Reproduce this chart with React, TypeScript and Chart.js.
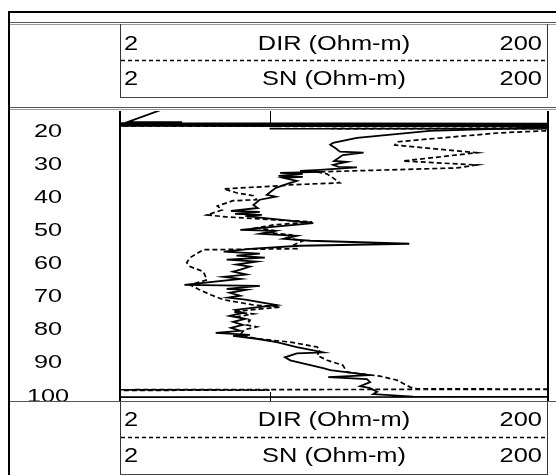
import React, { useEffect, useRef } from "react";
import { Chart, registerables } from "chart.js";

Chart.register(...registerables);

// ---- data (depth in m, resistivity in Ohm-m) ----
const dirDepth = [
  14.0, 17.6, 17.7, 18.0, 18.15, 18.4, 18.55, 18.8, 18.95, 20.3, 22.4, 23.9, 24.5, 25.7, 26.6, 26.9, 27.6,
  29.4, 29.7, 30.3, 30.6, 31.2, 31.3, 32.1, 32.4, 32.7, 33.0, 33.3, 33.9, 34.2, 34.5, 35.4, 36.3, 37.5,
  39.6, 40.2, 41.1, 42.7, 43.6, 44.5, 44.8, 45.4, 45.7, 46.0, 46.6, 48.2, 50.2, 50.5, 51.4, 52.0, 52.9,
  53.5, 54.4, 55.0, 55.9, 56.8, 57.4, 58.0, 58.6, 59.2, 59.8, 60.7, 61.3, 62.2, 62.8, 63.7, 64.4, 65.0,
  66.8, 67.1, 68.0, 68.3, 69.2, 70.1, 70.7, 71.3, 72.9, 74.4, 75.3, 76.2, 77.1, 78.0, 78.9, 79.8, 80.7,
  81.3, 81.9, 82.2, 83.1, 84.1, 85.6, 86.6, 87.2, 87.5, 88.7, 89.6, 90.5, 92.0, 92.6, 94.1, 94.7, 95.3,
  96.2, 97.4, 98.0, 99.1, 99.8, 100.6, 100.65, 100.75,
];
const dirValue = [
  3.1, 2.18, 3.9, 1.95, 300, 1.95, 300, 1.95, 300, 56, 25.6, 19.8, 19.2, 20.5, 21.3, 27.5, 22,
  20, 23, 20.7, 19.8, 21, 25.6, 17.2, 13.9, 17.2, 11.2, 14.3, 11.0, 14.3, 11.6, 13.4, 12.1, 10.7,
  9.7, 10.7, 9.0, 8.4, 8.8, 6.6, 9.0, 6.9, 9.2, 7.7, 9.3, 16.0, 7.3, 10.6, 9.0, 13.4, 11.6,
  15.5, 45, 13.9, 8.4, 6.1, 9.0, 7.0, 9.5, 6.3, 8.7, 7.0, 8.1, 7.3, 6.75, 7.8, 6.1, 7.3,
  4.0, 9.0, 6.3, 7.8, 6.5, 7.3, 6.4, 7.7, 10.8, 6.9, 7.5, 6.5, 7.7, 6.75, 7.5, 6.6, 7.3,
  5.6, 8.1, 6.75, 8.7, 10.8, 13.4, 16.0, 17.8, 13.4, 11.8, 12.5, 14.3, 17.8, 19.2, 29.5, 18.8, 28.5,
  29.5, 26.5, 29.5, 31.8, 30.5, 46.8, 300, 1.9,
];

const snDepth = [
  18.8, 19.05, 19.6, 19.65, 19.75, 20.9, 23.6, 24.6, 26.9, 29.4, 30.6, 31.5, 32.7, 33.3, 34.5, 36.0,
  36.6, 36.9, 37.8, 39.0, 39.9, 41.1, 41.4, 43.0, 44.2, 45.7, 46.3, 46.6, 47.2, 47.8, 48.7, 49.6, 50.5,
  51.1, 51.7, 52.6, 53.5, 54.7, 55.9, 56.2, 58.6, 60.1, 61.3, 62.8, 65.3, 66.8, 68.3, 69.8, 71.3, 72.9,
  73.5, 74.4, 75.0, 75.6, 76.5, 77.5, 78.9, 79.5, 80.4, 81.9, 83.1, 84.1, 85.6, 86.6, 88.1, 89.6, 91.1,
  93.2, 94.4, 95.6, 97.7, 98.2, 98.35, 98.5, 98.6, 98.7,
];
const snValue = [
  1.9, 300, 300, 10, 300, 119, 39.4, 38.5, 93, 42, 93, 75, 16.7, 18.5, 19.8, 21.3,
  12.5, 11.2, 6.1, 7.0, 8.4, 8.7, 6.75, 5.7, 6.0, 5.1, 6.3, 7.5, 10.8, 15.8, 10.5, 8.7, 10.8,
  10.0, 12.5, 11.8, 14.3, 13.0, 13.4, 4.9, 4.25, 4.1, 4.25, 4.9, 5.1, 4.25, 4.7, 5.3, 6.1, 8.4,
  11.2, 8.1, 6.75, 8.4, 7.0, 8.1, 7.8, 8.7, 7.6, 7.3, 8.7, 12.5, 16.7, 17.2, 16.7, 18.6, 22,
  23, 32.8, 39.4, 45.3, 48.9, 300, 1.9, 10, 1.9,
];

const depthTicks = [20, 30, 40, 50, 60, 70, 80, 90, 100];
const curveNames = ["DIR (Ohm-m)", "SN (Ohm-m)"];
const scaleMin = 2;
const scaleMax = 200;
const depthMin = 14.3;
const depthMax = 101.9;
const gridValues = [10];

function stretchText(ctx: CanvasRenderingContext2D, text: string, x: number, y: number, align: CanvasTextAlign, sx: number) {
  ctx.save();
  ctx.translate(x, y);
  ctx.scale(sx, 1);
  ctx.textAlign = align;
  ctx.textBaseline = "alphabetic";
  ctx.fillText(text, 0, 0);
  ctx.restore();
}

function hline(ctx: CanvasRenderingContext2D, x1: number, x2: number, y: number, color: string, w = 1) {
  ctx.fillStyle = color;
  ctx.fillRect(x1, y, x2 - x1, w);
}
function vline(ctx: CanvasRenderingContext2D, x: number, y1: number, y2: number, color: string, w = 1) {
  ctx.fillStyle = color;
  ctx.fillRect(x, y1, w, y2 - y1);
}

function drawLegendBox(ctx: CanvasRenderingContext2D, top: number, bottom: number, baselines: number[], dashY: number, drawBottom: boolean) {
  vline(ctx, 120, top, bottom, "#333");
  vline(ctx, 547, top, bottom, "#333");
  if (drawBottom) hline(ctx, 120, 548, bottom - 1, "#444");
  ctx.save();
  ctx.strokeStyle = "#000";
  ctx.lineWidth = 1.5;
  ctx.setLineDash([4, 3]);
  ctx.beginPath();
  ctx.moveTo(121, dashY);
  ctx.lineTo(547, dashY);
  ctx.stroke();
  ctx.restore();
  ctx.fillStyle = "#000";
  ctx.font = '20px "Liberation Sans"';
  curveNames.forEach((name, i) => {
    const b = baselines[i];
    stretchText(ctx, String(scaleMin), 124, b, "left", 1.27);
    stretchText(ctx, name, 334, b, "center", 1.27);
    stretchText(ctx, String(scaleMax), 542, b, "right", 1.27);
  });
}

const framePlugin = {
  id: "logFrame",
  beforeDraw(chart: any) {
    const ctx = chart.ctx as CanvasRenderingContext2D;
    ctx.save();
    ctx.fillStyle = "#fff";
    ctx.fillRect(0, 0, chart.width, chart.height);
    ctx.restore();
  },
  afterDraw(chart: any) {
    const ctx = chart.ctx as CanvasRenderingContext2D;
    const area = chart.chartArea;
    const xs = chart.scales.x;
    const ys = chart.scales.y;
    ctx.save();
    // outer frame
    hline(ctx, 8, 556, 11, "#000", 2);
    vline(ctx, 8, 11, 475, "#000", 2);
    hline(ctx, 10, 556, 22, "#555");
    hline(ctx, 10, 556, 24, "#999");
    // header box
    drawLegendBox(ctx, 24, 98, [50, 85], 60.5, true);
    hline(ctx, 10, 556, 107, "#555");
    hline(ctx, 10, 556, 109, "#999");
    // track borders
    vline(ctx, area.left - 1, 111, area.bottom, "#000", 2);
    vline(ctx, area.right - 1, 111, area.bottom + 1, "#000", 2);
    // ticks at grid values
    gridValues.forEach((v) => {
      const px = Math.round(xs.getPixelForValue(v));
      vline(ctx, px, area.top, area.top + 14, "#000");
      vline(ctx, px, area.bottom - 9, area.bottom, "#000");
    });
    // depth labels
    ctx.save();
    ctx.beginPath();
    ctx.rect(10, 110, 109, area.bottom - 110);
    ctx.clip();
    ctx.fillStyle = "#000";
    ctx.font = '19px "Liberation Sans"';
    depthTicks.forEach((d) => {
      stretchText(ctx, String(d), 48, ys.getPixelForValue(d) + 6.8, "center", 1.33);
    });
    ctx.restore();
    // bottom line and footer
    hline(ctx, 10, 556, area.bottom, "#555");
    drawLegendBox(ctx, area.bottom + 1, 475, [425.5, 461.5], 437.5, true);
    ctx.restore();
  },
};

function toPoints(depth: number[], value: number[]) {
  return depth.map((d, i) => ({ x: value[i], y: d }));
}

export default function App() {
  const ref = useRef<HTMLCanvasElement | null>(null);
  useEffect(() => {
    if (!ref.current) return;
    const chart = new Chart(ref.current, {
      type: "line",
      data: {
        datasets: [
          {
            label: curveNames[0],
            data: toPoints(dirDepth, dirValue),
            borderColor: "#000",
            borderWidth: 1.8,
            pointRadius: 0,
            tension: 0,
            fill: false,
            clip: 0,
          },
          {
            label: curveNames[1],
            data: toPoints(snDepth, snValue),
            borderColor: "#000",
            borderWidth: 1.7,
            borderDash: [5, 3],
            pointRadius: 0,
            tension: 0,
            fill: false,
            clip: 0,
          },
        ],
      },
      options: {
        animation: false,
        responsive: false,
        maintainAspectRatio: false,
        indexAxis: "y",
        layout: { padding: { left: 120, right: 8, top: 111, bottom: 74 } },
        plugins: { legend: { display: false }, tooltip: { enabled: false } },
        scales: {
          x: { type: "logarithmic", min: scaleMin, max: scaleMax, display: false },
          y: { type: "linear", reverse: true, min: depthMin, max: depthMax, display: false },
        },
      } as any,
      plugins: [framePlugin],
    });
    return () => chart.destroy();
  }, []);
  return (
    <div style={{ position: "fixed", left: 0, top: 0, width: 556, height: 475, background: "#fff" }}>
      <canvas ref={ref} width={556} height={475} style={{ width: 556, height: 475, display: "block" }} />
    </div>
  );
}
